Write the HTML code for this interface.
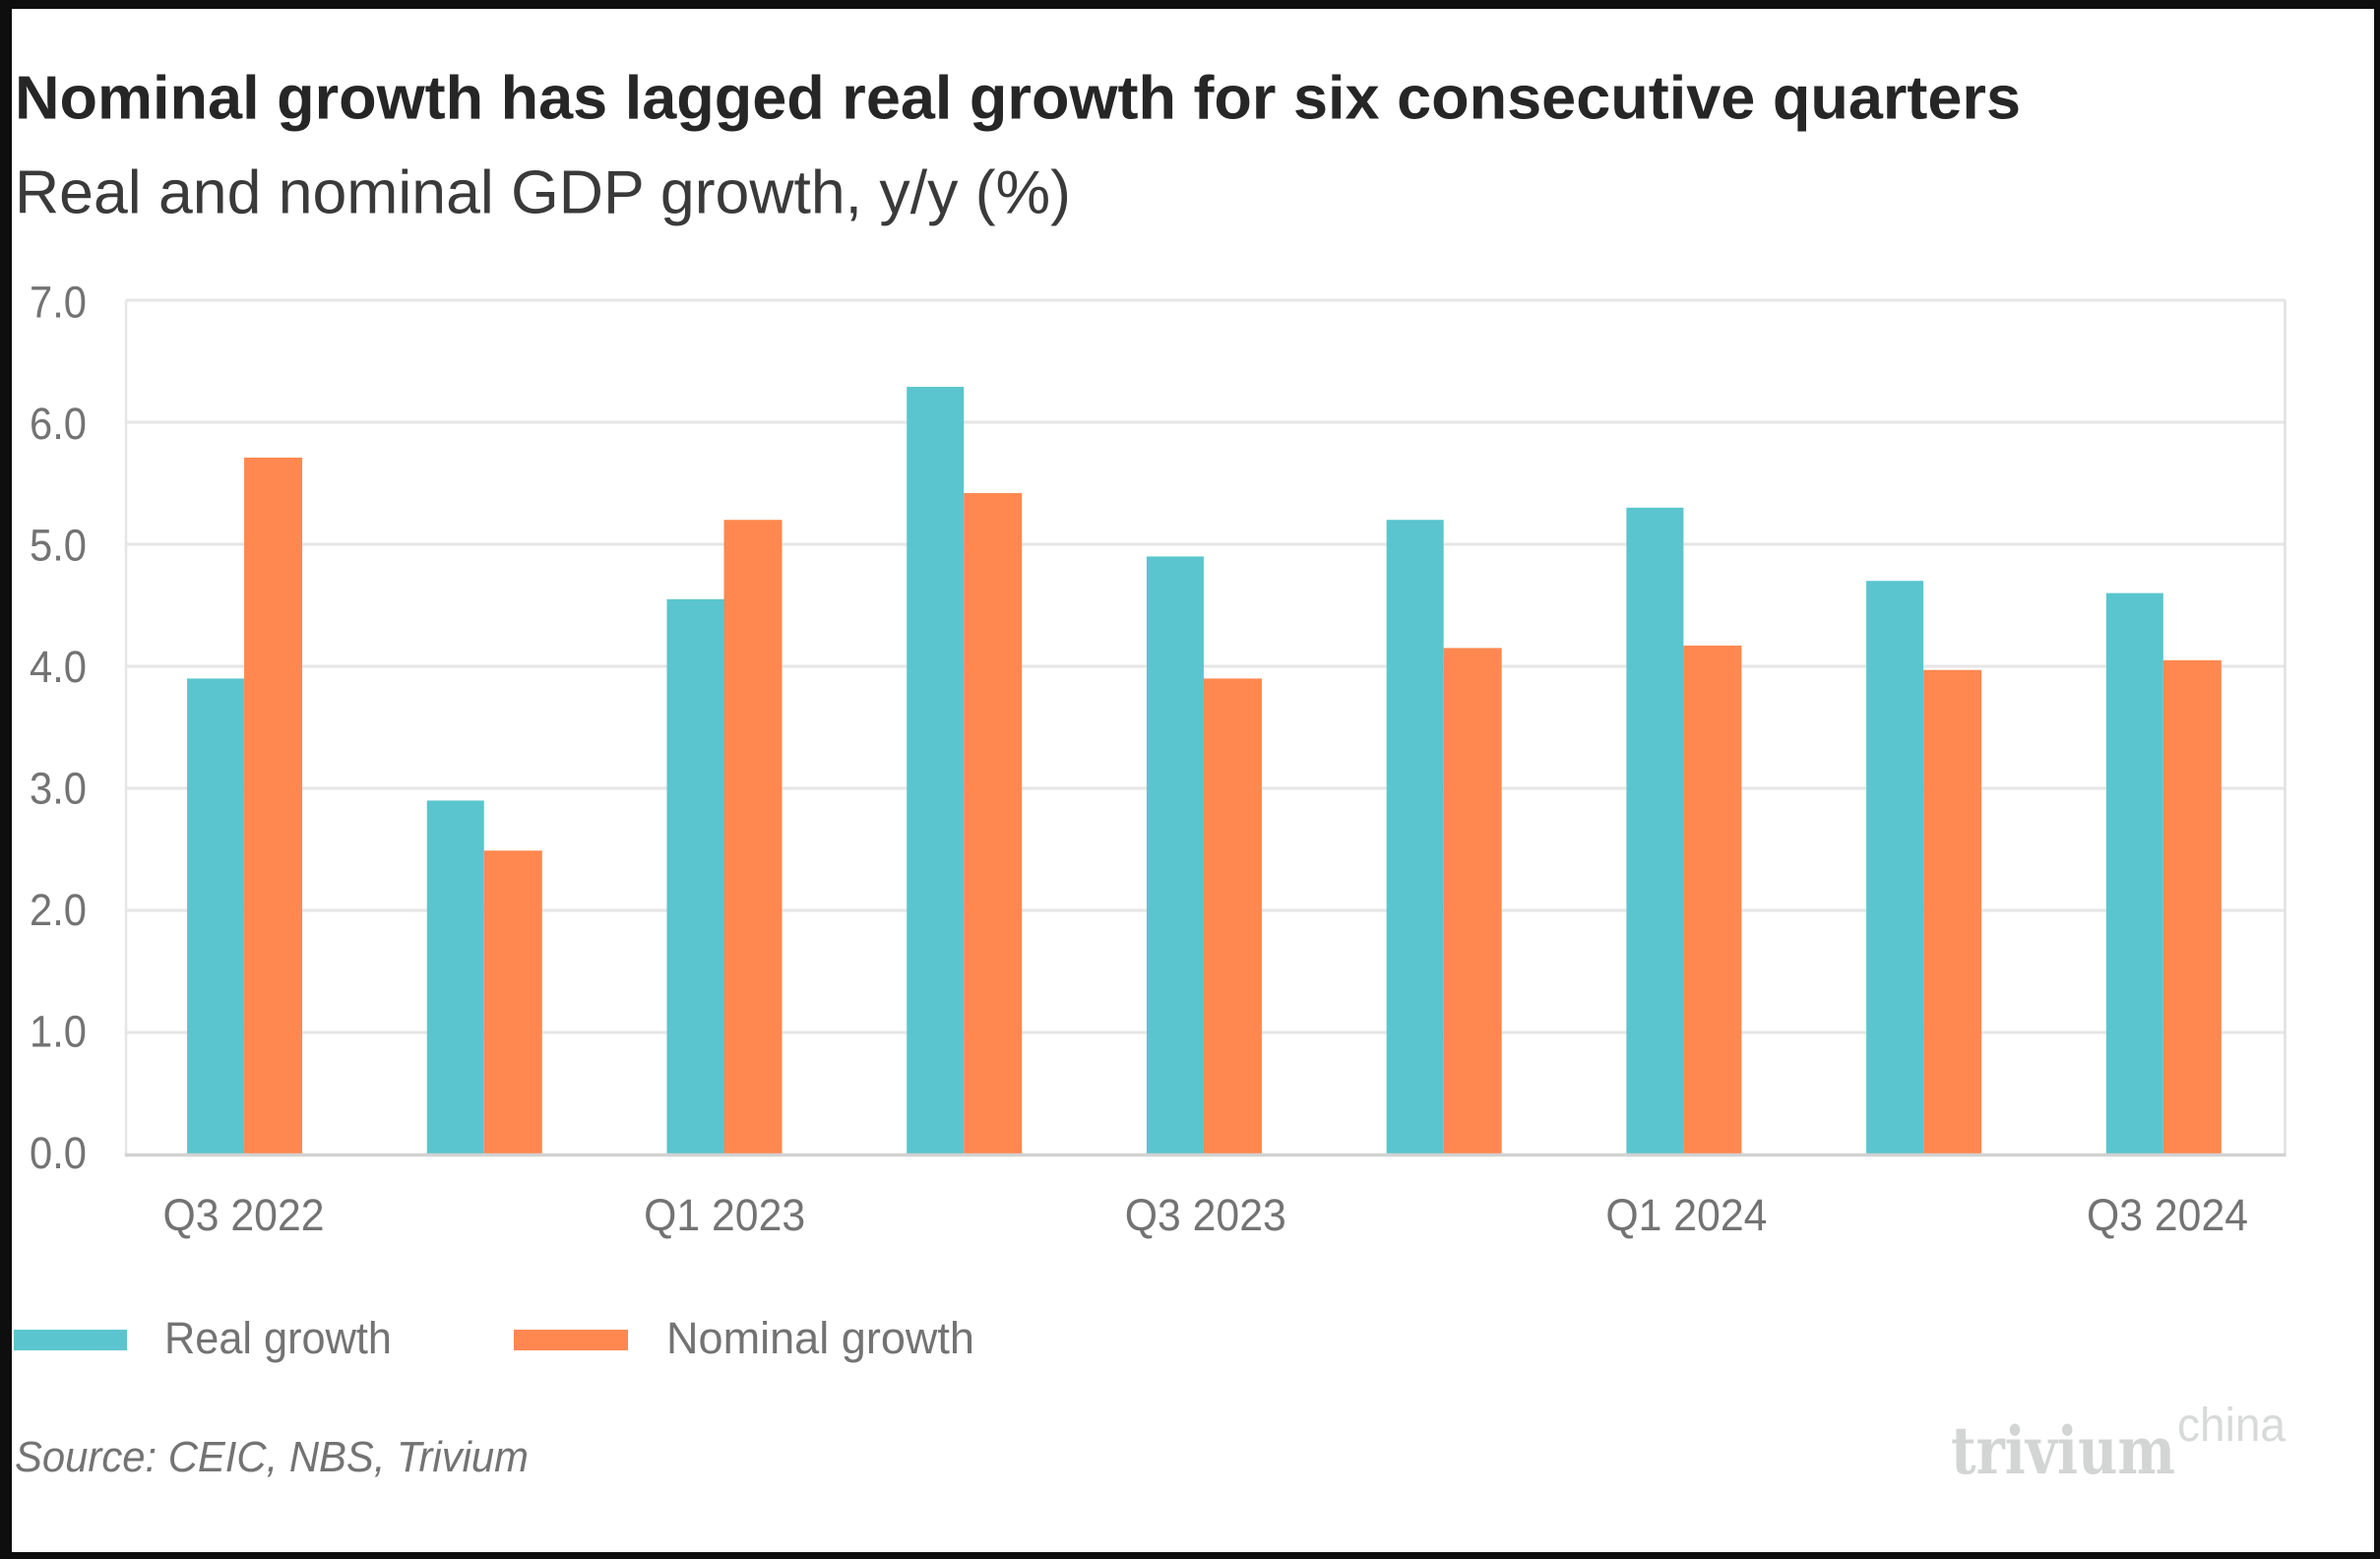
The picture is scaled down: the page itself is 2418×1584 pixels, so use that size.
<!DOCTYPE html>
<html lang="en">
<head>
<meta charset="utf-8">
<title>Nominal growth has lagged real growth for six consecutive quarters</title>
<style>
  html, body { margin: 0; padding: 0; background: #0e0e0e; }
  body { width: 2418px; height: 1584px; overflow: hidden; }
  svg { display: block; font-family: "Liberation Sans", sans-serif; }
</style>
</head>
<body>
<svg id="chart" width="2418" height="1584" viewBox="0 0 2418 1584" xmlns="http://www.w3.org/2000/svg">
  <rect x="0" y="0" width="2418" height="1584" fill="#0e0e0e"/>
  <rect x="12" y="9" width="2400" height="1568" fill="#ffffff"/>
  <text x="15" y="120.5" font-size="62" font-weight="700" fill="#262626" textLength="2038" lengthAdjust="spacingAndGlyphs">Nominal growth has lagged real growth for six consecutive quarters</text>
  <text x="15" y="216.5" font-size="62" fill="#3a3a3a" textLength="1073" lengthAdjust="spacingAndGlyphs">Real and nominal GDP growth, y/y (%)</text>
  <g id="grid"></g>
  <g id="bars"></g>
  <g id="yaxis"></g>
  <g id="xaxis"></g>
  <g>
    <rect x="14" y="1351" width="115" height="21" fill="#5ac5ce"/>
    <text x="167" y="1375" font-size="45" fill="#737373" textLength="231" lengthAdjust="spacingAndGlyphs">Real growth</text>
    <rect x="522" y="1351" width="116" height="21" fill="#ff8850"/>
    <text x="677" y="1375" font-size="45" fill="#737373" textLength="313" lengthAdjust="spacingAndGlyphs">Nominal growth</text>
  </g>
  <text x="15" y="1495" font-size="44" font-style="italic" fill="#737373" textLength="522" lengthAdjust="spacingAndGlyphs">Source: CEIC, NBS, Trivium</text>
  <g>
    <text x="1982" y="1497" font-family="'DejaVu Serif', serif" font-weight="700" font-size="66" fill="#d3d5d5" textLength="228" lengthAdjust="spacingAndGlyphs">trivium</text>
    <text x="2212" y="1464" font-size="48" fill="#d8dada" textLength="110" lengthAdjust="spacingAndGlyphs">china</text>
  </g>
</svg>
<script>
var categories = ["Q3 2022", "Q4 2022", "Q1 2023", "Q2 2023", "Q3 2023", "Q4 2023", "Q1 2024", "Q2 2024", "Q3 2024"];
var realGrowth = [3.9, 2.9, 4.55, 6.29, 4.9, 5.2, 5.3, 4.7, 4.6];
var nominalGrowth = [5.71, 2.49, 5.2, 5.42, 3.9, 4.15, 4.17, 3.97, 4.05];
var yTicks = [0, 1, 2, 3, 4, 5, 6, 7];
var xTickLabels = ["Q3 2022", "", "Q1 2023", "", "Q3 2023", "", "Q1 2024", "", "Q3 2024"];

var NS = "http://www.w3.org/2000/svg";
var plotLeft = 128, plotRight = 2321.5, plotTop = 305, plotBottom = 1173;
var barWidth = 58;
var yMax = 7;

function yScale(v) {
  return plotBottom - (v / yMax) * (plotBottom - plotTop);
}
function xCenter(i) {
  return plotLeft + (plotRight - plotLeft) * (i + 0.5) / categories.length - 1.8;
}
function xLabelCenter(i) {
  return 247.5 + i * (2202 - 247.5) / (categories.length - 1);
}
function make(tag, attrs, parent) {
  var el = document.createElementNS(NS, tag);
  for (var k in attrs) el.setAttribute(k, attrs[k]);
  parent.appendChild(el);
  return el;
}

var grid = document.getElementById("grid");
var bars = document.getElementById("bars");
var yaxis = document.getElementById("yaxis");
var xaxis = document.getElementById("xaxis");

yTicks.forEach(function (t) {
  if (t === 0) return;
  var line = make("line", { x1: plotLeft, x2: plotRight, y1: yScale(t), y2: yScale(t), stroke: "#e6e6e6", "stroke-width": 3 }, grid);
  
  
});

var leftBorder = make("line", { x1: plotLeft, x2: plotLeft, y1: plotTop, y2: plotBottom, stroke: "#e6e6e6", "stroke-width": 2.5 }, grid);


var rightBorder = make("line", { x1: plotRight, x2: plotRight, y1: plotTop, y2: plotBottom, stroke: "#e0e0e0", "stroke-width": 2.5 }, grid);



categories.forEach(function (c, i) {
  var cx = xCenter(i);
  var r = make("rect", { x: cx - barWidth, y: yScale(realGrowth[i]), width: barWidth, height: plotBottom - yScale(realGrowth[i]), fill: "#5ac5ce" }, bars);
  
  
  var n = make("rect", { x: cx, y: yScale(nominalGrowth[i]), width: barWidth + 1, height: plotBottom - yScale(nominalGrowth[i]), fill: "#ff8850" }, bars);
  
  
});

var baseline = make("line", { x1: plotLeft - 1, x2: plotRight + 1, y1: plotBottom + 0.5, y2: plotBottom + 0.5, stroke: "#d2d2d2", "stroke-width": 3.5 }, grid);


bars.parentNode.appendChild(grid.removeChild(baseline));

yTicks.forEach(function (t) {
  var label = make("text", { x: 88, y: yScale(t) + 14 + t * 0.53, "font-size": 45, fill: "#737373", "text-anchor": "end", textLength: 58, lengthAdjust: "spacingAndGlyphs" }, yaxis);
  
  
  label.textContent = t.toFixed(1);
});

xTickLabels.forEach(function (s, i) {
  if (!s) return;
  var label = make("text", { x: xLabelCenter(i), y: 1250, "font-size": 45, fill: "#737373", "text-anchor": "middle", textLength: 164, lengthAdjust: "spacingAndGlyphs" }, xaxis);
  
  
  label.textContent = s;
});
</script>
</body>
</html>
